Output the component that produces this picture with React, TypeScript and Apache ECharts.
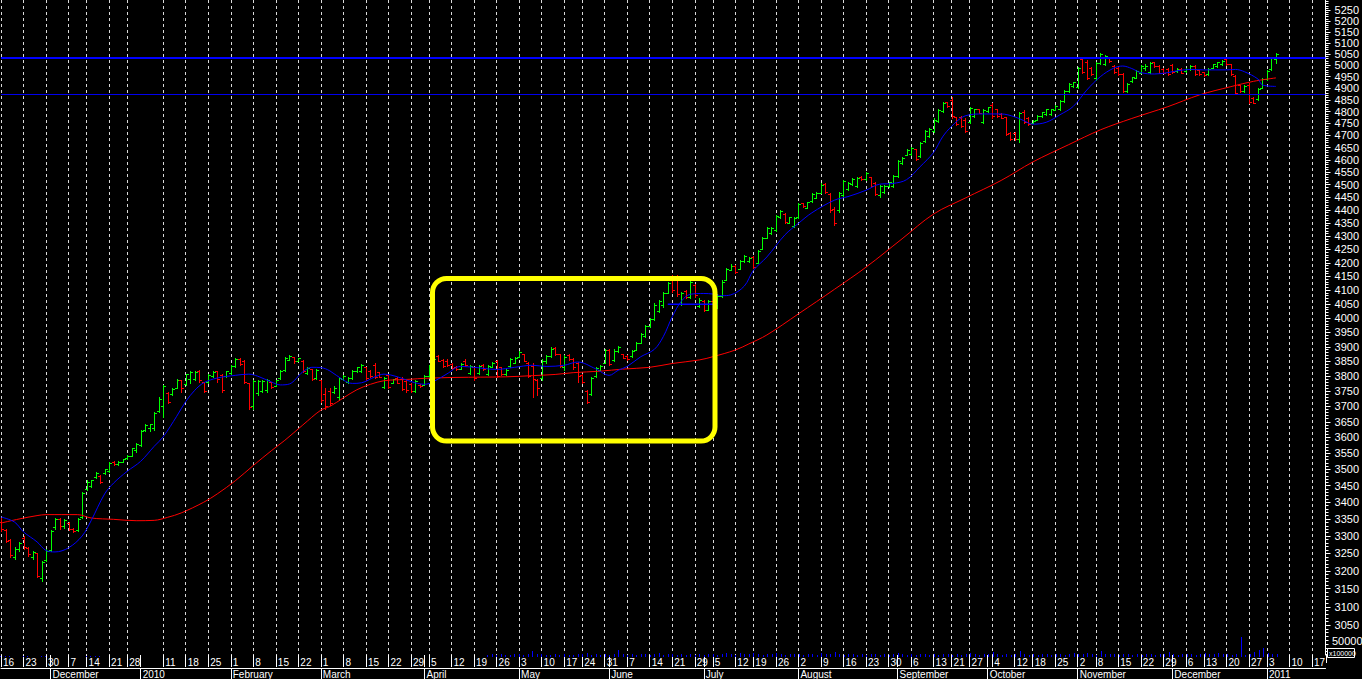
import React, { useEffect, useRef } from 'react';
import * as echarts from 'echarts';

// ---------- calendar (trading days, Santiago exchange holidays) ----------
const holidays = [
  '2009-12-08', '2009-12-25', '2009-12-31', '2010-01-01', '2010-04-02', '2010-05-21',
  '2010-06-28', '2010-07-16', '2010-09-17', '2010-09-20', '2010-10-11', '2010-11-01',
  '2010-12-08', '2010-12-31',
];
const firstDay = '2009-11-16';
const lastDay = '2011-01-20';

function buildTradingDays(): string[] {
  const out: string[] = [];
  const d = new Date(firstDay + 'T00:00:00Z');
  const end = new Date(lastDay + 'T00:00:00Z').getTime();
  while (d.getTime() <= end) {
    const dow = d.getUTCDay();
    const s = d.toISOString().slice(0, 10);
    if (dow !== 0 && dow !== 6 && holidays.indexOf(s) < 0) out.push(s);
    d.setUTCDate(d.getUTCDate() + 1);
  }
  return out;
}
const categories = buildTradingDays();

// week-start gridlines / day labels
const weekStarts = [
  '2009-11-16', '2009-11-23', '2009-11-30', '2009-12-07', '2009-12-14', '2009-12-21', '2009-12-28',
  '2010-01-11', '2010-01-18', '2010-01-25', '2010-02-01', '2010-02-08', '2010-02-15', '2010-02-22',
  '2010-03-01', '2010-03-08', '2010-03-15', '2010-03-22', '2010-03-29', '2010-04-05', '2010-04-12',
  '2010-04-19', '2010-04-26', '2010-05-03', '2010-05-10', '2010-05-17', '2010-05-24', '2010-05-31',
  '2010-06-07', '2010-06-14', '2010-06-21', '2010-06-29', '2010-07-05', '2010-07-12', '2010-07-19',
  '2010-07-26', '2010-08-02', '2010-08-09', '2010-08-16', '2010-08-23', '2010-08-30', '2010-09-06',
  '2010-09-13', '2010-09-21', '2010-09-27', '2010-10-04', '2010-10-12', '2010-10-18', '2010-10-25',
  '2010-11-02', '2010-11-08', '2010-11-15', '2010-11-22', '2010-11-29', '2010-12-06', '2010-12-13',
  '2010-12-20', '2010-12-27', '2011-01-03', '2011-01-10', '2011-01-17',
];
const monthStarts = [
  '2009-12-01', '2010-01-04', '2010-02-01', '2010-03-01', '2010-04-01', '2010-05-03', '2010-06-01',
  '2010-07-01', '2010-08-02', '2010-09-01', '2010-10-01', '2010-11-02', '2010-12-01', '2011-01-03',
];
const monthLabels = [
  'December', '2010', 'February', 'March', 'April', 'May', 'June',
  'July', 'August', 'September', 'October', 'November', 'December', '2011',
];

// price-axis tick labels
const yTickLabels = [
  3050, 3100, 3150, 3200, 3250, 3300, 3350, 3400, 3450, 3500, 3550, 3600, 3650, 3700, 3750,
  3800, 3850, 3900, 3950, 4000, 4050, 4100, 4150, 4200, 4250, 4300, 4350, 4400, 4450, 4500,
  4550, 4600, 4650, 4700, 4750, 4800, 4850, 4900, 4950, 5000, 5050, 5100, 5150, 5200, 5250,
];
const priceMin = 2971;
const priceMax = 5297;

// ---------- daily bars [open, high, low, close] ----------
const ohlc: number[][] = [
  [3340,3352,3315,3320],[3318,3322,3283,3286],[3288,3292,3240,3246],[3240,3268,3233,3262],[3262,3283,3258,3280],
  [3295,3300,3263,3268],[3265,3268,3243,3248],[3240,3258,3233,3255],[3250,3252,3182,3186],[3180,3228,3172,3224],
  [3230,3262,3228,3258],[3260,3318,3256,3315],[3325,3352,3322,3350],[3350,3354,3322,3330],[3328,3350,3324,3346],
  [3338,3340,3318,3322],[3322,3324,3312,3314],[3318,3354,3316,3350],[3356,3431,3354,3428],[3440,3466,3438,3462],
  [3450,3468,3446,3466],[3476,3493,3474,3490],[3480,3482,3459,3462],[3488,3502,3487,3500],[3496,3523,3493,3520],
  [3523,3525,3515,3517],[3516,3525,3515,3523],[3524,3533,3523,3532],[3534,3544,3533,3543],[3543,3568,3541,3566],
  [3560,3581,3555,3578],[3576,3625,3573,3622],[3624,3644,3621,3640],[3630,3644,3621,3642],[3630,3683,3623,3680],
  [3685,3730,3683,3726],[3700,3771,3667,3768],[3745,3749,3710,3716],[3740,3760,3738,3757],[3762,3790,3760,3786],
  [3786,3788,3749,3760],[3774,3809,3771,3806],[3790,3817,3776,3814],[3792,3817,3788,3815],[3818,3820,3782,3786],
  [3780,3782,3746,3750],[3782,3809,3779,3805],[3800,3817,3796,3814],[3816,3818,3782,3790],[3805,3809,3749,3753],
  [3800,3818,3798,3816],[3810,3837,3807,3834],[3834,3860,3832,3858],[3858,3860,3837,3842],[3850,3854,3776,3780],
  [3776,3778,3693,3697],[3700,3788,3693,3784],[3745,3788,3738,3784],[3752,3788,3749,3785],[3755,3790,3749,3787],
  [3780,3782,3760,3764],[3768,3788,3766,3786],[3794,3820,3792,3818],[3820,3866,3818,3862],[3856,3871,3854,3868],
  [3864,3866,3846,3850],[3852,3862,3850,3860],[3852,3854,3815,3818],[3812,3830,3809,3828],[3824,3826,3788,3792],
  [3795,3826,3790,3822],[3786,3788,3716,3722],[3740,3760,3693,3700],[3750,3760,3704,3712],[3746,3766,3744,3762],
  [3730,3797,3720,3794],[3790,3803,3788,3800],[3780,3797,3776,3794],[3795,3820,3792,3817],[3817,3832,3815,3830],
  [3818,3840,3815,3838],[3830,3832,3788,3795],[3818,3820,3797,3800],[3838,3843,3793,3798],[3814,3815,3796,3798],
  [3765,3797,3760,3794],[3805,3809,3760,3765],[3778,3792,3776,3790],[3795,3797,3776,3779],[3790,3797,3753,3758],
  [3785,3788,3749,3753],[3774,3776,3749,3752],[3752,3788,3749,3785],[3772,3774,3764,3766],[3772,3803,3771,3800],
  [3800,3837,3797,3834],[3836,3862,3830,3858],[3868,3871,3850,3853],[3855,3857,3830,3834],[3852,3857,3834,3838],
  [3840,3843,3826,3829],[3832,3834,3820,3823],[3826,3843,3825,3840],[3852,3857,3834,3838],[3812,3837,3809,3834],
  [3830,3832,3788,3795],[3812,3837,3809,3834],[3838,3840,3820,3823],[3808,3837,3803,3834],[3832,3847,3830,3845],
  [3850,3854,3797,3802],[3830,3832,3803,3806],[3806,3826,3803,3822],[3834,3860,3832,3857],[3846,3866,3843,3863],
  [3866,3885,3864,3882],[3875,3877,3850,3853],[3845,3847,3797,3802],[3835,3843,3731,3790],[3788,3792,3738,3760],
  [3795,3857,3788,3852],[3850,3871,3846,3868],[3868,3898,3866,3894],[3896,3898,3871,3874],[3875,3877,3832,3836],
  [3830,3871,3820,3866],[3872,3874,3854,3857],[3858,3860,3826,3830],[3845,3847,3782,3800],[3805,3809,3776,3780],
  [3750,3753,3710,3714],[3742,3797,3738,3794],[3800,3832,3797,3828],[3822,3837,3820,3834],[3845,3891,3843,3888],
  [3888,3891,3837,3842],[3855,3891,3852,3886],[3885,3902,3883,3899],[3876,3877,3860,3863],[3869,3871,3854,3857],
  [3868,3888,3866,3885],[3890,3917,3888,3914],[3914,3948,3912,3945],[3938,3975,3935,3972],[3972,3999,3970,3996],
  [3996,4052,3993,4048],[4025,4064,4022,4060],[4045,4094,4040,4090],[4090,4130,4088,4126],[4150,4155,4094,4100],
  [4148,4155,4079,4085],[4050,4094,4046,4090],[4098,4100,4070,4074],[4076,4136,4072,4130],[4120,4124,4076,4082],
  [4044,4070,4040,4066],[4062,4066,4025,4030],[4030,4066,4028,4062],[4060,4064,4034,4038],[4040,4085,4035,4080],
  [4080,4136,4077,4130],[4138,4180,4136,4176],[4174,4195,4172,4190],[4188,4191,4161,4165],[4178,4210,4176,4206],
  [4206,4229,4204,4226],[4206,4222,4204,4219],[4222,4225,4180,4185],[4200,4248,4199,4244],[4252,4298,4250,4294],
  [4295,4336,4292,4332],[4312,4336,4309,4333],[4322,4382,4318,4378],[4372,4401,4369,4398],[4385,4388,4349,4354],
  [4352,4375,4349,4372],[4340,4375,4336,4370],[4372,4427,4369,4423],[4426,4428,4414,4416],[4410,4433,4407,4430],
  [4435,4466,4433,4462],[4448,4472,4446,4469],[4468,4505,4466,4500],[4502,4505,4466,4470],[4462,4466,4394,4400],
  [4405,4414,4343,4350],[4400,4472,4394,4468],[4458,4519,4453,4514],[4482,4512,4479,4508],[4502,4525,4499,4522],
  [4496,4532,4492,4528],[4530,4533,4519,4521],[4522,4552,4519,4548],[4530,4532,4492,4496],[4508,4512,4460,4465],
  [4458,4499,4453,4495],[4470,4499,4466,4496],[4494,4512,4492,4509],[4496,4539,4492,4535],[4536,4600,4532,4595],
  [4588,4612,4585,4608],[4620,4646,4619,4642],[4622,4653,4619,4649],[4643,4646,4599,4604],[4615,4674,4612,4670],
  [4676,4722,4674,4718],[4697,4729,4694,4725],[4720,4771,4715,4766],[4760,4813,4757,4808],[4803,4842,4800,4838],
  [4840,4843,4821,4824],[4850,4863,4771,4780],[4776,4779,4744,4748],[4778,4782,4734,4740],[4765,4771,4715,4720],
  [4755,4821,4750,4816],[4782,4813,4779,4810],[4811,4813,4792,4795],[4755,4813,4750,4808],[4802,4821,4800,4818],
  [4830,4835,4775,4780],[4810,4813,4779,4783],[4790,4792,4771,4774],[4776,4779,4701,4706],[4712,4715,4680,4684],
  [4710,4715,4680,4685],[4685,4800,4674,4795],[4800,4806,4750,4756],[4775,4779,4744,4748],[4751,4764,4750,4762],
  [4765,4785,4764,4782],[4781,4800,4779,4797],[4788,4813,4785,4810],[4790,4813,4785,4811],[4808,4828,4806,4825],
  [4810,4849,4806,4845],[4845,4892,4842,4888],[4888,4921,4885,4917],[4908,4928,4906,4925],[4905,4994,4899,4990],
  [5030,5038,4965,4970],[5015,5023,4939,4945],[4990,4994,4958,4962],[4945,5016,4936,5010],[5012,5056,5008,5050],
  [5005,5045,5001,5040],[5036,5038,5016,5019],[4998,5001,4965,4969],[4990,4994,4958,4962],[4960,4965,4885,4890],
  [4888,4921,4885,4917],[4930,4950,4928,4947],[4946,4980,4943,4976],[4968,5001,4965,4997],[4990,5005,4978,4998],
  [4970,5016,4965,5012],[5014,5016,4994,4997],[4998,5001,4965,4968],[4985,4987,4965,4968],[4984,4987,4958,4962],
  [5002,5008,4965,4970],[4973,4987,4972,4985],[4985,4987,4965,4968],[4973,4987,4972,4984],[4982,5001,4980,4998],
  [4998,5001,4958,4962],[4978,4980,4958,4961],[4970,4972,4953,4956],[4960,4987,4958,4984],[4988,5008,4987,5005],
  [4996,5016,4994,5013],[5004,5023,5001,5020],[5030,5038,5001,5005],[5004,5008,4958,4962],[4955,4958,4874,4880],
  [4912,4914,4885,4888],[4887,4914,4885,4910],[4915,4921,4835,4840],[4860,4863,4835,4838],[4852,4899,4849,4895],
  [4902,4943,4899,4940],[4940,4980,4936,4976],[4982,5038,4980,5034],[5030,5056,5012,5050],
];

// short moving average (blue), read as [dayIndex, value]
const maShort: number[][] = [
  [0,3356],[3,3341],[5,3312],[8,3283],[10,3258],[12,3254],[15,3266],[18,3300],[20,3345],[23,3425],
  [25,3458],[28,3494],[31,3525],[34,3572],[36,3602],[39,3668],[41,3716],[43,3753],[45,3778],[48,3794],
  [52,3803],[55,3807],[57,3800],[60,3781],[62,3771],[64,3774],[67,3815],[69,3830],[71,3829],[73,3818],
  [76,3787],[78,3776],[80,3778],[83,3798],[85,3807],[88,3798],[91,3782],[94,3773],[96,3782],[99,3808],
  [102,3833],[105,3830],[110,3823],[114,3830],[118,3837],[121,3833],[125,3837],[128,3848],[132,3825],[135,3803],
  [137,3820],[139,3833],[142,3866],[145,3891],[147,3935],[149,4005],[151,4060],[153,4085],[156,4088],[158,4086],
  [160,4080],[162,4083],[165,4115],[167,4172],[170,4222],[174,4305],[177,4349],[180,4390],[185,4439],[188,4453],
  [192,4478],[195,4502],[198,4505],[201,4520],[204,4572],[207,4630],[209,4694],[211,4738],[214,4782],[218,4790],
  [222,4790],[225,4778],[227,4762],[229,4747],[232,4755],[235,4786],[238,4822],[241,4892],[244,4950],[247,4988],
  [249,4997],[251,4986],[253,4968],[256,4962],[259,4968],[261,4976],[264,4982],[267,4980],[272,4980],[274,4982],
  [276,4972],[279,4940],[280,4914],[283,4908],
];

// long moving average (red)
const maLong: number[][] = [
  [0,3338],[4,3350],[8,3360],[10,3363],[17,3363],[20,3353],[25,3349],[30,3345],[34,3346],[37,3355],
  [40,3368],[45,3400],[48,3425],[52,3465],[56,3512],[60,3558],[63,3591],[67,3640],[71,3688],[73,3700],
  [76,3728],[79,3755],[82,3773],[85,3785],[88,3788],[91,3790],[94,3793],[101,3796],[112,3798],[118,3802],
  [123,3806],[127,3812],[133,3817],[138,3824],[144,3830],[149,3843],[155,3855],[158,3866],[163,3889],[166,3910],
  [170,3941],[177,4015],[185,4103],[192,4184],[200,4290],[207,4385],[214,4447],[222,4517],[229,4591],[237,4662],
  [244,4723],[251,4771],[259,4821],[266,4871],[273,4907],[278,4930],[283,4945],
];

// drawn horizontal levels
const resistanceLevel = 5035;
const lowerLevel = 4875;
const shortLevel = [[148, 4049], [159, 4049]];

// volume (sparse early dots, then daily from index 108)
const volumeEarly: number[][] = [
  [0,5000],[1,5000],[2,5000],[5,5000],[6,5000],[9,5000],[10,5000],[19,5000],[20,5000],[21,5000],[22,5000],
];
const volumeStart = 108;
const volumeDaily = [
  8500,11000,7000,12500,10000,8500,11000,14000,10000,12500,
  25000,
  11000,14000,8500,10000,12500,7000,11000,8500,10000,12500,11000,
  16700,
  10000,12500,8500,11000,10000,14000,
  29000,
  11000,8500,12500,10000,14000,11000,8500,12500,15000,10000,11000,14000,8500,12500,10000,11000,8500,12500,10000,14000,11000,8500,12500,
  16700,
  12500,10000,15000,11000,14000,16000,12500,10000,14000,11000,15000,12500,10000,14000,11000,12500,8500,14000,11000,10000,15000,12500,11000,
  20000,
  12500,10000,11000,14000,8500,12500,10000,11000,14000,8500,11000,10000,12500,15000,11000,8500,12500,10000,14000,11000,
  8500,12500,10000,11000,14000,8500,12500,10000,11000,15000,12500,10000,11000,14000,
  20000,
  11000,10000,12500,8500,14000,
  25000,
  11000,10000,12500,8500,11000,14000,10000,12500,11000,8500,12500,15000,11000,14000,16700,12500,10000,
  25000,
  12500,11000,14000,10000,12500,11000,8500,12500,10000,14000,11000,8500,12500,11000,
  20000,
  11000,10000,14000,12500,11000,10000,12500,15000,11000,14000,16700,12500,11000,10000,14000,
  82000,
  8500,12500,20000,29000,37000,16700,11000,11000,
];

const FONT = '"Liberation Sans", Arial, sans-serif';

export default function App() {
  const ref = useRef<HTMLDivElement>(null);

  useEffect(() => {
    if (!ref.current) return;
    const chart = echarts.init(ref.current, undefined, { renderer: 'svg' });
    const ln = Math.log;
    const weekSet = new Set(weekStarts);
    const monthSet = new Set(monthStarts);
    const monthName: Record<string, string> = {};
    monthStarts.forEach((m, k) => { monthName[m] = monthLabels[k]; });

    const minorTicks: number[] = [];
    for (let v = 2980; v <= 5290; v += 10) minorTicks.push(ln(v));

    const barData = ohlc.map((b, i) => [i, ln(b[0]), ln(b[1]), ln(b[2]), ln(b[3])]);
    const volData = volumeEarly.concat(volumeDaily.map((v, k) => [volumeStart + k, v]));

    const option: any = {
      animation: false,
      backgroundColor: '#000000',
      grid: [
        { left: -2, right: 35.5, top: 0, bottom: 24 },
        { left: -2, right: 35.5, top: 637, height: 20 },
      ],
      xAxis: [
        {
          type: 'category', gridIndex: 0, data: categories, boundaryGap: false, position: 'bottom',
          axisLine: { show: false, onZero: false },
          axisTick: {
            show: true, length: 12,
            interval: (i: number, v: string) => weekSet.has(v) || monthSet.has(v),
            lineStyle: { color: '#ffffff', width: 1 },
          },
          axisLabel: {
            show: true, interval: (i: number, v: string) => weekSet.has(v),
            formatter: (v: string) => String(Number(v.slice(8))),
            color: '#ffffff', fontSize: 10, fontFamily: FONT, align: 'left',
            padding: [0, 0, 0, 2], margin: 2,
          },
          splitLine: {
            show: true, interval: (i: number, v: string) => weekSet.has(v),
            lineStyle: { color: '#d8d8d8', width: 1, type: [3, 3] },
          },
        },
        {
          type: 'category', gridIndex: 0, data: categories, boundaryGap: false, position: 'bottom', offset: 13,
          axisLine: { show: true, onZero: false, lineStyle: { color: '#ffffff', width: 1 } },
          axisTick: {
            show: true, length: 11,
            interval: (i: number, v: string) => monthSet.has(v),
            lineStyle: { color: '#ffffff', width: 1 },
          },
          axisLabel: {
            show: true, interval: (i: number, v: string) => monthSet.has(v),
            formatter: (v: string) => monthName[v] || '',
            color: '#ffffff', fontSize: 10, fontFamily: FONT, align: 'left',
            padding: [0, 0, 0, 2], margin: 1,
          },
          splitLine: { show: false },
        },
        { type: 'category', gridIndex: 1, data: categories, boundaryGap: false, show: false },
      ],
      yAxis: [
        {
          type: 'value', gridIndex: 0, position: 'right', min: ln(priceMin), max: ln(priceMax),
          axisLine: { show: true, lineStyle: { color: '#ffffff', width: 1 } },
          axisTick: { show: true, length: 5, customValues: yTickLabels.map(ln), lineStyle: { color: '#ffffff' } },
          axisLabel: {
            show: true, customValues: yTickLabels.map(ln),
            formatter: (v: number) => String(Math.round(Math.exp(v))),
            color: '#ffffff', fontSize: 11, fontFamily: FONT, margin: 9,
          },
          splitLine: { show: false },
        },
        {
          type: 'value', gridIndex: 0, position: 'right', min: ln(priceMin), max: ln(priceMax),
          axisLine: { show: false },
          axisTick: { show: true, length: 3, customValues: minorTicks, lineStyle: { color: '#ffffff' } },
          axisLabel: { show: false },
          splitLine: { show: false },
        },
        { type: 'value', gridIndex: 1, min: 0, max: 83333, show: false },
      ],
      series: [
        {
          type: 'custom', xAxisIndex: 2, yAxisIndex: 2, data: volData, silent: true,
          encode: { x: 0, y: 1 },
          renderItem: (params: any, api: any) => {
            const i = api.value(0);
            const top = api.coord([i, api.value(1)]);
            const base = api.coord([i, 0]);
            const x = Math.round(top[0]);
            const yb = Math.round(base[1]);
            let yt = Math.round(top[1]);
            if (yt >= yb) yt = yb - 1;
            return {
              type: 'rect',
              shape: { x: x, y: yt, width: 1, height: yb - yt },
              style: { fill: '#0000ff' },
            };
          },
        },
        {
          type: 'custom', xAxisIndex: 0, yAxisIndex: 0, data: barData,
          encode: { x: 0, y: [1, 2, 3, 4] }, z: 2, silent: true,
          renderItem: (params: any, api: any) => {
            const i = api.value(0);
            const o = api.coord([i, api.value(1)]);
            const h = api.coord([i, api.value(2)]);
            const l = api.coord([i, api.value(3)]);
            const c = api.coord([i, api.value(4)]);
            const up = api.value(4) >= api.value(1);
            const color = up ? '#00ff00' : '#ff0000';
            const px = Math.round(h[0]);
            const x = px + 0.5;
            const yh = Math.round(h[1]);
            let yl = Math.round(l[1]) + 1;
            if (yl <= yh) yl = yh + 1;
            const yo = Math.round(o[1]) + 0.5;
            const yc = Math.round(c[1]) + 0.5;
            const st = { stroke: color, lineWidth: 1 };
            return {
              type: 'group',
              children: [
                { type: 'line', shape: { x1: x, y1: yh, x2: x, y2: yl }, style: st },
                { type: 'line', shape: { x1: px - 2, y1: yo, x2: px + 1, y2: yo }, style: st },
                { type: 'line', shape: { x1: px, y1: yc, x2: px + 3, y2: yc }, style: st },
              ],
            };
          },
        },
        {
          type: 'line', xAxisIndex: 0, yAxisIndex: 0, z: 3, silent: true,
          data: maLong.map((p) => [p[0], ln(p[1])]),
          smooth: 0.35, showSymbol: false, symbol: 'none',
          lineStyle: { color: '#ff0000', width: 1 },
        },
        {
          type: 'line', xAxisIndex: 0, yAxisIndex: 0, z: 4, silent: true,
          data: maShort.map((p) => [p[0], ln(p[1])]),
          smooth: 0.35, showSymbol: false, symbol: 'none',
          lineStyle: { color: '#0000ff', width: 1 },
          markLine: {
            silent: true, symbol: ['none', 'none'], label: { show: false }, precision: 10,
            data: [
              { yAxis: ln(resistanceLevel), lineStyle: { color: '#0000ff', width: 2, type: 'solid' } },
              { yAxis: ln(lowerLevel), lineStyle: { color: '#0000ee', width: 1, type: 'solid' } },
            ],
          },
        },
        {
          type: 'line', xAxisIndex: 0, yAxisIndex: 0, z: 4, silent: true,
          data: shortLevel.map((p) => [p[0], ln(p[1])]),
          showSymbol: false, symbol: 'none',
          lineStyle: { color: '#0000ff', width: 1.5 },
        },
      ],
      graphic: [
        {
          type: 'rect', z: 100, silent: true,
          shape: { x: 432.5, y: 278.5, width: 282.5, height: 162.5, r: 14 },
          style: { fill: 'rgba(0,0,0,0)', stroke: '#ffff00', lineWidth: 5 },
        },
        {
          type: 'line', z: 100, silent: true,
          shape: { x1: 1326.5, y1: 654, x2: 1326.5, y2: 663 },
          style: { stroke: '#ffffff', lineWidth: 1 },
        },
        {
          type: 'text', z: 100, x: 1332, y: 635,
          style: { text: '50000', fill: '#ffffff', fontSize: 11, fontFamily: FONT },
        },
        {
          type: 'rect', z: 101, shape: { x: 1327.5, y: 648.5, width: 27, height: 9 },
          style: { fill: '#000000', stroke: '#ffffff', lineWidth: 1 },
        },
        {
          type: 'text', z: 102, x: 1329, y: 649.5,
          style: { text: 'x100000', fill: '#ffffff', fontSize: 7, fontFamily: FONT },
        },
      ],
    };

    chart.setOption(option);
    return () => chart.dispose();
  }, []);

  return (
    <div
      ref={ref}
      style={{ position: 'fixed', left: 0, top: 0, width: 1362, height: 679, background: '#000' }}
    />
  );
}
